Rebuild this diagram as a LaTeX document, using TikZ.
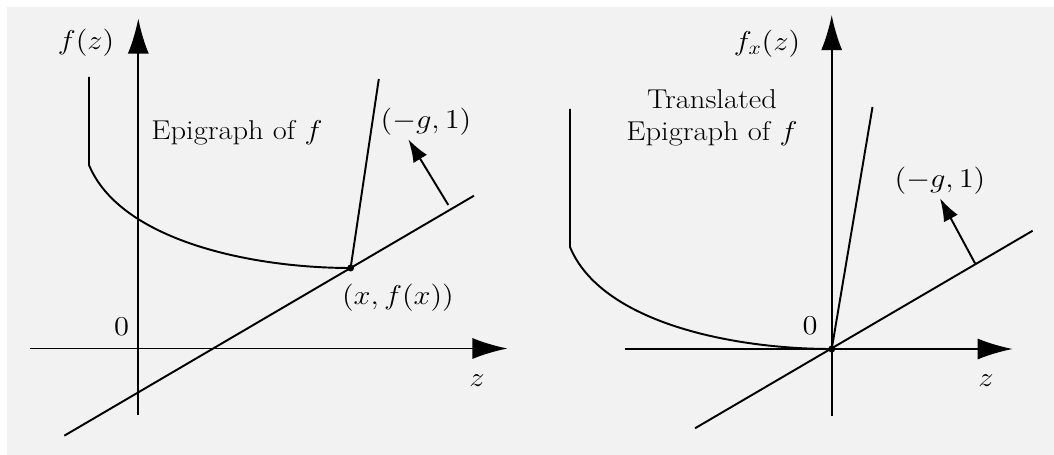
\RequirePackage{fix-cm}
\documentclass[tikz,border=0pt]{standalone}
\usepackage{graphicx}
\usetikzlibrary{arrows.meta}
\definecolor{panelgray}{RGB}{242,242,242}
\newcommand{\wlab}[1]{\scalebox{1.12}[1]{#1}}
\tikzset{
  curve/.style={line width=1.1pt},
  axis/.style={line width=1.1pt,-{Latex[length=20pt,width=12pt]}},
  normalarrow/.style={line width=1.1pt,-{Latex[length=13pt,width=9pt]}},
  lbl/.style={inner sep=0pt,font=\fontsize{15.5}{18}\selectfont},
}

\begin{document}
\begin{tikzpicture}[x=0.02cm,y=-0.02cm]
\useasboundingbox[fill=white] (0,0) rectangle (1054,455);
\fill[panelgray] (7,7) rectangle (1054,455); %panel

%%% left panel
\coordinate (O1) at (138.3,348.5); %origin
\coordinate (P) at (350.6,268); %(x,f(x))
\draw[axis] (138.3,415)--(138.3,18.5) ; %y-axis
\draw[axis] (30,348.5)--(507.6,348.5) ; %z-axis
\draw[curve] (89,77)--(89,165) .. controls (120,240) and (250,268) .. (P) ; %f
\coordinate (T1a) at (64.3,435.7);
\coordinate (T1b) at (474,195.7);
\draw[curve] (T1a)--(T1b) ; %supporting line
\coordinate (N1) at (378.8,79);
\draw[curve] (P)--(N1) ;
\coordinate (G1a) at (448.3,205);
\coordinate (G1b) at (408.3,139.3);
\draw[normalarrow] (G1a)--(G1b) ;
\fill (P) circle (2pt);
\node[lbl] (fz) at (86,43) {\wlab{$f(z)$}};
\node[lbl] (zero1) at (121.5,327) {\wlab{$0$}};
\node[lbl] (z1) at (477,381) {\wlab{$z$}};
\node[lbl] (epi1) at (237,133) {\wlab{Epigraph of $f$}};
\node[lbl] (g1) at (426,122) {\wlab{$(-g,1)$}};
\node[lbl] (pt) at (398,298) {\wlab{$\big(x,f(x)\big)$}};

%%% right panel
\coordinate (O2) at (831.7,349); %origin
\draw[axis] (831.7,416)--(831.7,15) ; %y-axis
\draw[axis] (624.5,349)--(1012.7,349) ; %z-axis
\draw[curve] (570,109)--(570,247) .. controls (601,322) and (731,349) .. (O2) ; %f_x
\coordinate (T2a) at (695,428.3);
\coordinate (T2b) at (1032.7,230.7);
\draw[curve] (T2a)--(T2b) ; %supporting line
\coordinate (N2) at (872.5,107);
\draw[curve] (O2)--(N2) ;
\coordinate (G2a) at (975,263.3);
\coordinate (G2b) at (940,198.3);
\draw[normalarrow] (G2a)--(G2b) ;
\fill (O2) circle (2pt);
\node[lbl] (fxz) at (767,44) {\wlab{$f_x(z)$}};
\node[lbl] (zero2) at (810,326) {\wlab{$0$}};
\node[lbl] (z2) at (986,381) {\wlab{$z$}};
\node[lbl,align=center] (epi2) at (712,118) {\wlab{Translated}\\\wlab{Epigraph of $f$}};
\node[lbl] (g2) at (940,181) {\wlab{$(-g,1)$}};
\end{tikzpicture}
\end{document}
